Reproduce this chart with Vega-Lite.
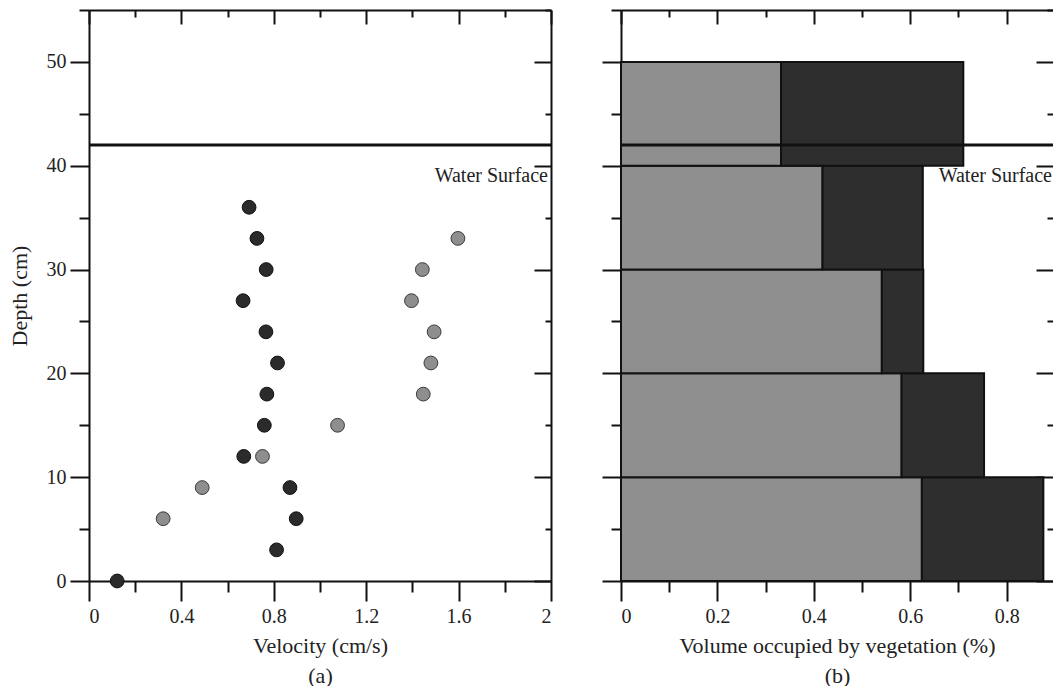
{
  "$schema": "https://vega.github.io/schema/vega-lite/v6.json",
  "padding": {"left": 8, "top": 9, "right": 0, "bottom": 0},
  "background": "white",
  "datasets": {
    "points": [
      {"velocity": 0.122, "depth": 0, "series": "A"},
      {"velocity": 0.812, "depth": 3, "series": "A"},
      {"velocity": 0.897, "depth": 6, "series": "A"},
      {"velocity": 0.870, "depth": 9, "series": "A"},
      {"velocity": 0.670, "depth": 12, "series": "A"},
      {"velocity": 0.759, "depth": 15, "series": "A"},
      {"velocity": 0.770, "depth": 18, "series": "A"},
      {"velocity": 0.816, "depth": 21, "series": "A"},
      {"velocity": 0.766, "depth": 24, "series": "A"},
      {"velocity": 0.667, "depth": 27, "series": "A"},
      {"velocity": 0.767, "depth": 30, "series": "A"},
      {"velocity": 0.727, "depth": 33, "series": "A"},
      {"velocity": 0.693, "depth": 36, "series": "A"},
      {"velocity": 0.321, "depth": 6, "series": "B"},
      {"velocity": 0.490, "depth": 9, "series": "B"},
      {"velocity": 0.751, "depth": 12, "series": "B"},
      {"velocity": 1.076, "depth": 15, "series": "B"},
      {"velocity": 1.447, "depth": 18, "series": "B"},
      {"velocity": 1.480, "depth": 21, "series": "B"},
      {"velocity": 1.494, "depth": 24, "series": "B"},
      {"velocity": 1.396, "depth": 27, "series": "B"},
      {"velocity": 1.443, "depth": 30, "series": "B"},
      {"velocity": 1.597, "depth": 33, "series": "B"}
    ],
    "bars": [
      {"lo": 0, "hi": 10, "zero": 0, "part1": 0.624, "total": 0.876},
      {"lo": 10, "hi": 20, "zero": 0, "part1": 0.582, "total": 0.753},
      {"lo": 20, "hi": 30, "zero": 0, "part1": 0.541, "total": 0.627},
      {"lo": 30, "hi": 40, "zero": 0, "part1": 0.418, "total": 0.626},
      {"lo": 40, "hi": 50, "zero": 0, "part1": 0.332, "total": 0.710}
    ],
    "surface": [
      {"x0": 0, "x1": 2, "xr": 0, "xr1": 0.896, "depth": 42, "label": "Water Surface", "labelDepth": 38.4}
    ]
  },
  "config": {
    "font": "Liberation Serif",
    "view": {"stroke": null},
    "axis": {
      "labelFont": "Liberation Serif",
      "titleFont": "Liberation Serif",
      "labelFontSize": 20,
      "titleFontSize": 22,
      "labelColor": "#222222",
      "titleColor": "#222222",
      "titleFontWeight": "normal",
      "grid": false,
      "domainColor": "#111111",
      "tickColor": "#111111",
      "domainWidth": 2,
      "tickWidth": 2
    }
  },
  "spacing": 48,
  "hconcat": [
    {
      "width": 462,
      "height": 571,
      "resolve": {"axis": {"x": "independent", "y": "independent"}},
      "layer": [
        {
          "data": {"name": "points"},
          "transform": [{"filter": "datum.series === 'A'"}],
          "mark": {"type": "point", "filled": true, "fill": "#2b2b2b", "stroke": "#111111", "strokeWidth": 1, "size": 190, "opacity": 1},
          "encoding": {
            "x": {"field": "velocity", "type": "quantitative", "scale": {"domain": [0, 2], "nice": false, "zero": false},
              "axis": {"orient": "bottom", "values": [0, 0.4, 0.8, 1.2, 1.6, 2], "format": "~g", "tickSize": 20, "labelPadding": 5, "title": ["Velocity (cm/s)", "(a)"], "titlePadding": 9, "titleLineHeight": 30, "domain": true}},
            "y": {"field": "depth", "type": "quantitative", "scale": {"domain": [0, 55], "nice": false, "zero": false},
              "axis": {"orient": "left", "values": [0, 10, 20, 30, 40, 50], "tickSize": 19, "labelPadding": 4, "title": "Depth (cm)", "titlePadding": 15, "domain": true}}
          }
        },
        {
          "data": {"name": "points"},
          "transform": [{"filter": "datum.series === 'B'"}],
          "mark": {"type": "point", "filled": true, "fill": "#8e8e8e", "stroke": "#3a3a3a", "strokeWidth": 1, "size": 190, "opacity": 1},
          "encoding": {
            "x": {"field": "velocity", "type": "quantitative", "scale": {"domain": [0, 2], "nice": false, "zero": false},
              "axis": {"orient": "bottom", "values": [0.2, 0.6, 1.0, 1.4, 1.8], "tickSize": 11, "labels": false, "domain": false, "title": null}},
            "y": {"field": "depth", "type": "quantitative", "scale": {"domain": [0, 55], "nice": false, "zero": false},
              "axis": {"orient": "left", "values": [5, 15, 25, 35, 45, 55], "tickSize": 10, "labels": false, "domain": false, "title": null}}
          }
        },
        {
          "data": {"name": "surface"},
          "mark": {"type": "rule", "color": "#111111", "strokeWidth": 3},
          "encoding": {
            "x": {"field": "x0", "type": "quantitative", "scale": {"domain": [0, 2], "nice": false, "zero": false},
              "axis": {"orient": "top", "values": [0, 0.4, 0.8, 1.2, 1.6, 2], "tickSize": -14, "labels": false, "domain": true, "title": null}},
            "x2": {"field": "x1"},
            "y": {"field": "depth", "type": "quantitative", "scale": {"domain": [0, 55], "nice": false, "zero": false},
              "axis": {"orient": "right", "values": [0, 10, 20, 30, 40, 50], "tickSize": -17, "labels": false, "domain": true, "title": null}}
          }
        },
        {
          "data": {"name": "surface"},
          "mark": {"type": "text", "align": "right", "baseline": "alphabetic", "font": "Liberation Serif", "fontSize": 20, "color": "#222222", "dx": -3},
          "encoding": {
            "x": {"field": "x1", "type": "quantitative", "scale": {"domain": [0, 2], "nice": false, "zero": false},
              "axis": {"orient": "top", "values": [0.2, 0.6, 1.0, 1.4, 1.8], "tickSize": -7, "labels": false, "domain": false, "title": null}},
            "y": {"field": "labelDepth", "type": "quantitative", "scale": {"domain": [0, 55], "nice": false, "zero": false},
              "axis": {"orient": "right", "values": [5, 15, 25, 35, 45, 55], "tickSize": -6, "labels": false, "domain": false, "title": null}},
            "text": {"field": "label"}
          }
        }
      ]
    },
    {
      "width": 432,
      "height": 571,
      "resolve": {"axis": {"x": "independent", "y": "independent"}},
      "layer": [
        {
          "data": {"name": "bars"},
          "mark": {"type": "rect", "fill": "#8f8f8f", "stroke": "#111111", "strokeWidth": 2},
          "encoding": {
            "x": {"field": "zero", "type": "quantitative", "scale": {"domain": [0, 0.896], "nice": false, "zero": false},
              "axis": {"orient": "bottom", "values": [0, 0.2, 0.4, 0.6, 0.8], "format": "~g", "tickSize": 20, "labelPadding": 5, "title": ["Volume occupied by vegetation (%)", "(b)"], "titlePadding": 9, "titleLineHeight": 30, "domain": true}},
            "x2": {"field": "part1"},
            "y": {"field": "lo", "type": "quantitative", "scale": {"domain": [0, 55], "nice": false, "zero": false},
              "axis": {"orient": "left", "values": [0, 10, 20, 30, 40, 50], "tickSize": 19, "labels": false, "domain": true, "title": null}},
            "y2": {"field": "hi"}
          }
        },
        {
          "data": {"name": "bars"},
          "mark": {"type": "rect", "fill": "#2e2e2e", "stroke": "#111111", "strokeWidth": 2},
          "encoding": {
            "x": {"field": "part1", "type": "quantitative", "scale": {"domain": [0, 0.896], "nice": false, "zero": false},
              "axis": {"orient": "bottom", "values": [0.1, 0.3, 0.5, 0.7], "tickSize": 11, "labels": false, "domain": false, "title": null}},
            "x2": {"field": "total"},
            "y": {"field": "lo", "type": "quantitative", "scale": {"domain": [0, 55], "nice": false, "zero": false},
              "axis": {"orient": "left", "values": [5, 15, 25, 35, 45, 55], "tickSize": 10, "labels": false, "domain": false, "title": null}},
            "y2": {"field": "hi"}
          }
        },
        {
          "data": {"name": "surface"},
          "mark": {"type": "rule", "color": "#111111", "strokeWidth": 3},
          "encoding": {
            "x": {"field": "xr", "type": "quantitative", "scale": {"domain": [0, 0.896], "nice": false, "zero": false},
              "axis": {"orient": "top", "values": [0, 0.2, 0.4, 0.6, 0.8], "tickSize": -14, "labels": false, "domain": true, "title": null}},
            "x2": {"field": "xr1"},
            "y": {"field": "depth", "type": "quantitative", "scale": {"domain": [0, 55], "nice": false, "zero": false},
              "axis": {"orient": "right", "values": [0, 10, 20, 30, 40, 50], "tickSize": -17, "labels": false, "domain": false, "title": null}}
          }
        },
        {
          "data": {"name": "surface"},
          "mark": {"type": "text", "align": "right", "baseline": "alphabetic", "font": "Liberation Serif", "fontSize": 20, "color": "#222222", "dx": -1},
          "encoding": {
            "x": {"field": "xr1", "type": "quantitative", "scale": {"domain": [0, 0.896], "nice": false, "zero": false},
              "axis": {"orient": "top", "values": [0.1, 0.3, 0.5, 0.7], "tickSize": -7, "labels": false, "domain": false, "title": null}},
            "y": {"field": "labelDepth", "type": "quantitative", "scale": {"domain": [0, 55], "nice": false, "zero": false},
              "axis": {"orient": "right", "values": [5, 15, 25, 35, 45, 55], "tickSize": -6, "labels": false, "domain": false, "title": null}},
            "text": {"field": "label"}
          }
        }
      ]
    }
  ]
}
